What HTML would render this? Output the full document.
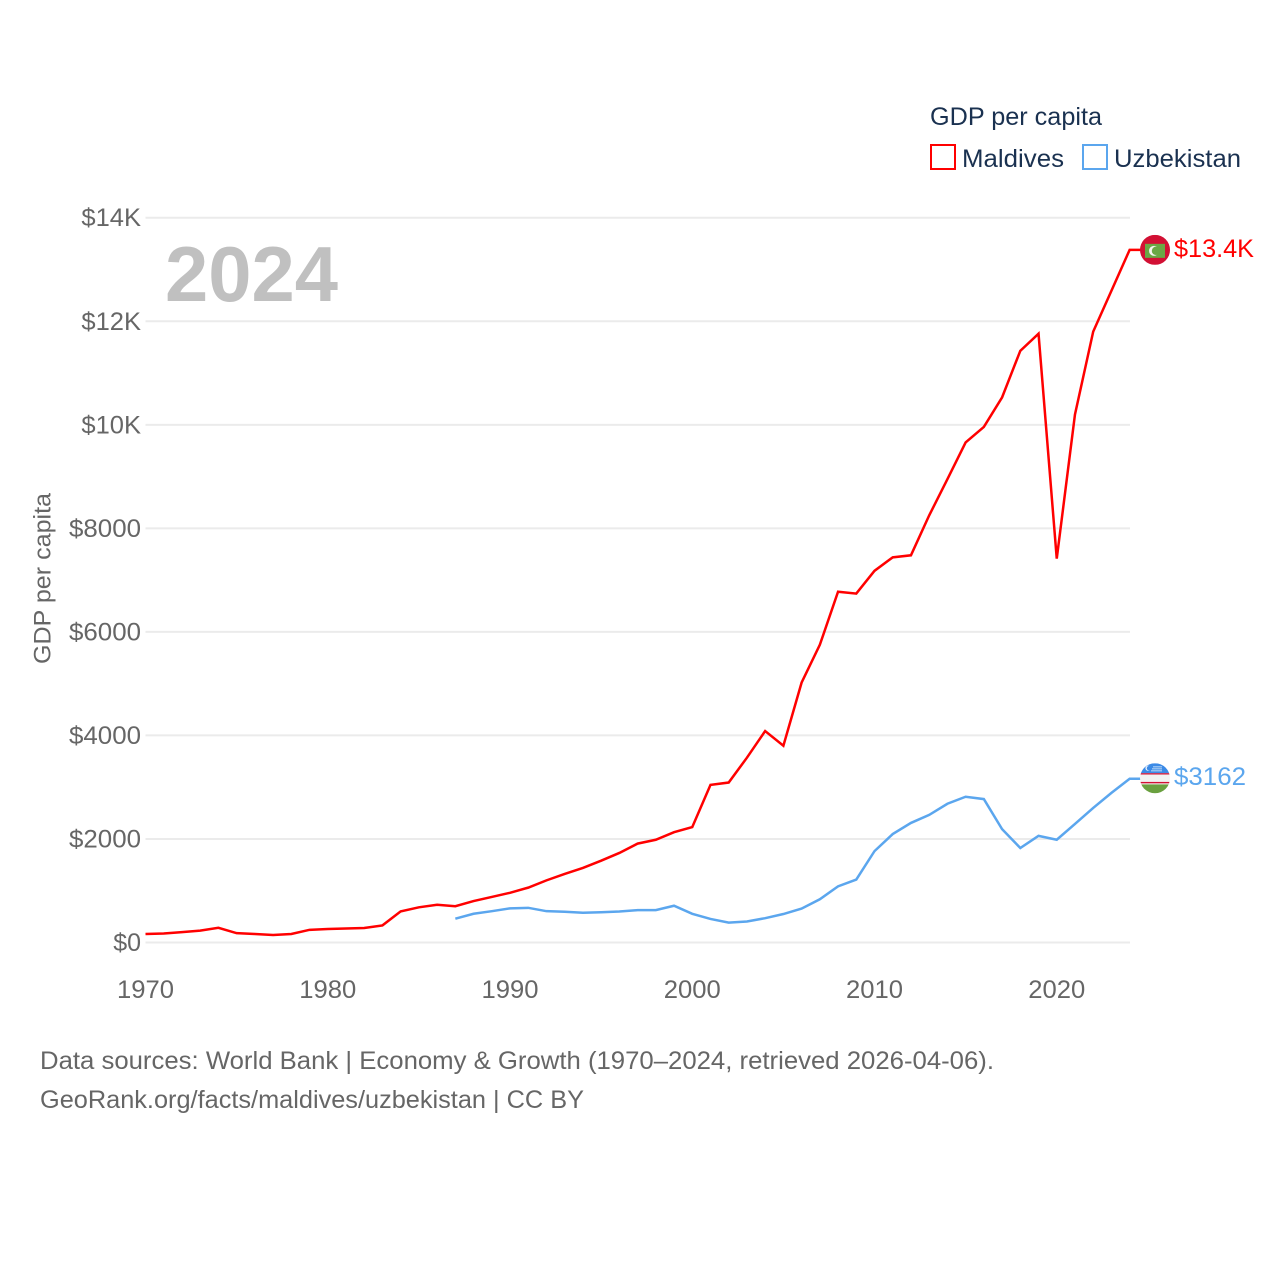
<!DOCTYPE html>
<html>
<head>
<meta charset="utf-8">
<style>
html,body{margin:0;padding:0;background:#fff;}
svg{display:block;}
text{font-family:"Liberation Sans",sans-serif;}
</style>
</head>
<body>
<svg id="chart" width="1280" height="1280" viewBox="0 0 1280 1280" xmlns="http://www.w3.org/2000/svg">
  <defs>
    <clipPath id="clip-mv"><circle id="clip-mv-c" r="15"/></clipPath>
    <clipPath id="clip-uz"><circle id="clip-uz-c" r="15"/></clipPath>
  </defs>
  <g id="grid"></g>
  <g id="yaxis"></g>
  <g id="xaxis"></g>
  <text x="165" y="301" font-size="78" font-weight="bold" fill="#c0c0c0" textLength="173" lengthAdjust="spacingAndGlyphs">2024</text>
  <text transform="translate(50.5,578.5) rotate(-90)" text-anchor="middle" font-size="24" fill="#666" textLength="171" lengthAdjust="spacingAndGlyphs">GDP per capita</text>
  <g id="series"></g>
  <g id="flag-mv"></g>
  <g id="flag-uz"></g>
  <text id="val-mv" x="1174" font-size="25" fill="#ff0000" textLength="80" lengthAdjust="spacingAndGlyphs"></text>
  <text id="val-uz" x="1174" font-size="25" fill="#5ba6ee" textLength="72" lengthAdjust="spacingAndGlyphs"></text>
  <g>
    <text x="930" y="125" font-size="25" fill="#1a3150" textLength="172" lengthAdjust="spacingAndGlyphs">GDP per capita</text>
    <g>
      <rect x="931" y="145" width="24" height="24" fill="#fff" stroke="#ff0000" stroke-width="2"/>
      <text x="962" y="167" font-size="25" fill="#1a3150" textLength="102" lengthAdjust="spacingAndGlyphs">Maldives</text>
    </g>
    <g>
      <rect x="1083" y="145" width="24" height="24" fill="#fff" stroke="#5ba6ee" stroke-width="2"/>
      <text x="1114" y="167" font-size="25" fill="#1a3150" textLength="127" lengthAdjust="spacingAndGlyphs">Uzbekistan</text>
    </g>
  </g>
  <g>
    <text x="40" y="1069" font-size="25" fill="#666" textLength="954" lengthAdjust="spacingAndGlyphs">Data sources: World Bank | Economy &amp; Growth (1970–2024, retrieved 2026-04-06).</text>
    <text x="40" y="1108" font-size="25" fill="#666" textLength="544" lengthAdjust="spacingAndGlyphs">GeoRank.org/facts/maldives/uzbekistan | CC BY</text>
  </g>
</svg>
<script>
const maldivesStartYear = 1970;
const maldivesValues = [165,175,200,230,285,180,165,145,165,245,262,270,280,330,600,680,730,700,800,880,960,1060,1200,1325,1440,1580,1730,1910,1985,2130,2230,3045,3090,3570,4085,3800,5020,5750,6775,6740,7180,7440,7480,8250,8950,9660,9960,10530,11430,11760,7415,10200,11800,12590,13380];
const uzbekistanStartYear = 1987;
const uzbekistanValues = [460,555,605,660,670,605,595,575,585,600,625,625,710,555,455,385,405,470,550,655,835,1085,1215,1765,2095,2310,2465,2680,2815,2770,2190,1825,2060,1985,2290,2600,2890,3162];
const yTickValues = [0,2000,4000,6000,8000,10000,12000,14000];
const yTickLabels = ["$0","$2000","$4000","$6000","$8000","$10K","$12K","$14K"];
const xTickYears = [1970,1980,1990,2000,2010,2020];
const maldivesLabel = "$13.4K";
const uzbekistanLabel = "$3162";

const NS = "http://www.w3.org/2000/svg";
function xScale(year){ return 145.5 + (year - 1970) * 18.225; }
function yScale(v){ return 942.5 - v * 0.051768; }
function make(tag, attrs, parent){
  const el = document.createElementNS(NS, tag);
  for (const k in attrs) el.setAttribute(k, attrs[k]);
  parent.appendChild(el);
  return el;
}
const grid = document.getElementById('grid');
const yaxis = document.getElementById('yaxis');
const xaxis = document.getElementById('xaxis');
const seriesG = document.getElementById('series');

yTickValues.forEach(function(v, i){
  const line = make('line', {x1:145.5, x2:1130, y1:yScale(v), y2:yScale(v), stroke:'#ebebeb', 'stroke-width':2}, grid);
  
  
  const label = yTickLabels[i];
  const t = make('text', {x:141, y:yScale(v)+8.5, 'text-anchor':'end', 'font-size':25, fill:'#666', textLength: label.length * 14.4 + (label.indexOf('K')>=0 ? 2 : 0) - (label==='$0' ? 1 : 0), lengthAdjust:'spacingAndGlyphs'}, yaxis);
  t.textContent = label;
  
  
});
xTickYears.forEach(function(y){
  const t = make('text', {x:xScale(y), y:998, 'text-anchor':'middle', 'font-size':25, fill:'#666', textLength:57, lengthAdjust:'spacingAndGlyphs'}, xaxis);
  t.textContent = String(y);
  
  
});

function pathFor(values, start){
  const pts = values.map(function(v, i){ return xScale(start + i).toFixed(2) + ',' + yScale(v).toFixed(2); });
  const last = values[values.length - 1];
  pts.push((xScale(start + values.length - 1) + 11).toFixed(2) + ',' + yScale(last).toFixed(2));
  return 'M' + pts.join('L');
}
const mvLine = make('path', {d:pathFor(maldivesValues, maldivesStartYear), fill:'none', stroke:'#ff0000', 'stroke-width':2.5, 'stroke-linejoin':'miter'}, seriesG);


const uzLine = make('path', {d:pathFor(uzbekistanValues, uzbekistanStartYear), fill:'none', stroke:'#5ba6ee', 'stroke-width':2.5, 'stroke-linejoin':'miter'}, seriesG);



const cx = 1155;
const mvY = yScale(maldivesValues[maldivesValues.length - 1]);
const uzY = yScale(uzbekistanValues[uzbekistanValues.length - 1]) - 0.6;
document.getElementById('clip-mv-c').setAttribute('cx', cx);
document.getElementById('clip-mv-c').setAttribute('cy', mvY);
document.getElementById('clip-uz-c').setAttribute('cx', cx);
document.getElementById('clip-uz-c').setAttribute('cy', uzY);

const fm = document.getElementById('flag-mv');
fm.setAttribute('clip-path', 'url(#clip-mv)');
make('rect', {x:cx-15, y:mvY-15, width:30, height:30, fill:'#d21034'}, fm);
make('rect', {x:cx-10, y:mvY-6, width:20, height:14, fill:'#6aa845'}, fm);
make('circle', {cx:cx-1, cy:mvY+1, r:5, fill:'#f4f4ee'}, fm);
make('circle', {cx:cx+1, cy:mvY+1, r:4.2, fill:'#6aa845'}, fm);

const fu = document.getElementById('flag-uz');
fu.setAttribute('clip-path', 'url(#clip-uz)');
make('rect', {x:cx-15, y:uzY-15, width:30, height:10, fill:'#3b8ae6'}, fu);
make('rect', {x:cx-15, y:uzY-5, width:30, height:1.3, fill:'#d21034'}, fu);
make('rect', {x:cx-15, y:uzY-3.7, width:30, height:7.4, fill:'#f2f2f2'}, fu);
make('rect', {x:cx-15, y:uzY+3.7, width:30, height:1.5, fill:'#d21034'}, fu);
make('rect', {x:cx-15, y:uzY+5.2, width:30, height:1, fill:'#f2f2f2'}, fu);
make('rect', {x:cx-15, y:uzY+6.2, width:30, height:9, fill:'#6aa03f'}, fu);
make('circle', {cx:cx-7, cy:uzY-10, r:2.6, fill:'#eaf3fd'}, fu);
make('circle', {cx:cx-6, cy:uzY-10, r:2.2, fill:'#3b8ae6'}, fu);
make('rect', {x:cx-2, y:uzY-12, width:9, height:1.2, fill:'#a9cdf3'}, fu);
make('rect', {x:cx-3, y:uzY-10, width:10, height:1.2, fill:'#a9cdf3'}, fu);
make('rect', {x:cx-4, y:uzY-8, width:11, height:1.2, fill:'#a9cdf3'}, fu);

const vm = document.getElementById('val-mv');
vm.setAttribute('y', yScale(maldivesValues[maldivesValues.length - 1]) + 7);
vm.textContent = maldivesLabel;
const vu = document.getElementById('val-uz');
vu.setAttribute('y', yScale(uzbekistanValues[uzbekistanValues.length - 1]) + 6);
vu.textContent = uzbekistanLabel;
</script>
</body>
</html>
